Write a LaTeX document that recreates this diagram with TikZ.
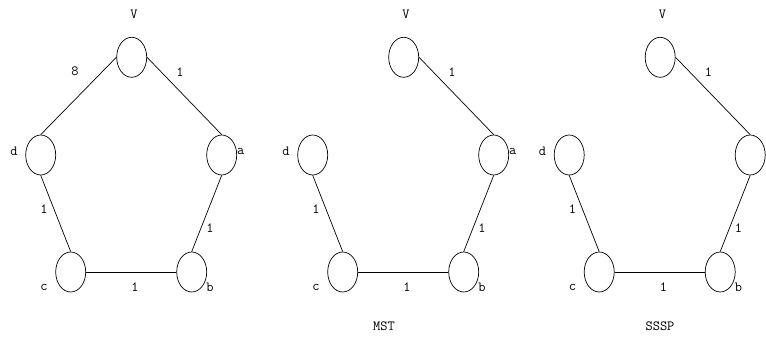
\documentclass[tikz,border=0pt]{standalone}
\usetikzlibrary{shapes.geometric}

\tikzset{
  vert/.style={draw, ellipse, line width=0.7pt, minimum width=30pt, minimum height=40pt, inner sep=0pt},
  lbl/.style={font=\fontsize{14}{14}\selectfont\ttfamily, inner sep=0pt},
  link/.style={line width=0.7pt}
}

\begin{document}
\begin{tikzpicture}[x=1pt, y=-1pt]
\useasboundingbox (0,0) rectangle (766,337);
\foreach \g/\dx in {1/0, 2/272, 3/528.5} {
\begin{scope}[xshift=\dx pt]
  % vertices
  \node[vert] (V\g) at (131.7,57.3) {};
  \node[vert] (a\g) at (221.7,155) {};
  \node[vert] (b\g) at (191.7,272) {};
  \node[vert] (c\g) at (70.7,272) {};
  \node[vert] (d\g) at (40.7,155) {};
  % vertex names
  \node[lbl] (nV\g) at (134,14) {V};
  \node[lbl] (nd\g) at (14,151) {d};
  \node[lbl] (nc\g) at (44,287) {c};
  \node[lbl] (nb\g) at (210,287) {b};
  % weights
  \node[lbl] (wVa\g) at (180,71.7) {1};
  \node[lbl] (wab\g) at (210,228) {1};
  \node[lbl] (wdc\g) at (44,209) {1};
  \node[lbl] (wcb\g) at (135,287) {1};
\end{scope}
}
\node[lbl] (na1) at (240.7,151) {a};
\node[lbl] (na2) at (512.7,151) {a};
\node[lbl] (wVd1) at (75,71.7) {8};

% full graph
\draw[link] (V1.west) -- (d1.north);

% edges shared by all three
\foreach \g in {1,2,3} {
  \draw[link] (V\g.east) -- (a\g.north);
  \draw[link] (a\g.south) -- (b\g.north);
  \draw[link] (d\g.south) -- (c\g.north);
  \draw[link] (c\g.east) -- (b\g.west);
}

% captions
\node[lbl] (mst) at (384,326) {MST};
\node[lbl] (sssp) at (660,326) {SSSP};
\end{tikzpicture}
\end{document}
